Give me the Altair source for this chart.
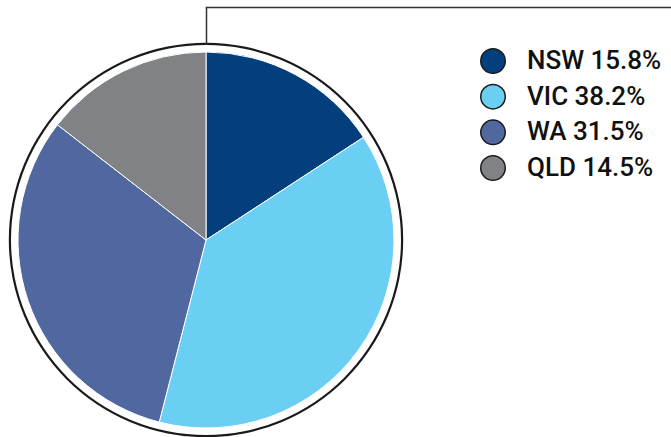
import altair as alt
import pandas as pd
import math

states = ["NSW", "VIC", "WA", "QLD"]
shares = [15.8, 38.2, 31.5, 14.5]
labels = ["NSW 15.8%", "VIC 38.2%", "WA 31.5%", "QLD 14.5%"]
colors = ["#033f7c", "#6bcff4", "#5167a0", "#808285"]

df = pd.DataFrame({"state": states, "share": shares, "label": labels, "order": list(range(len(states)))})

color_scale = alt.Scale(domain=states, range=colors)
CX, CY, R = 206, 240, 188

pie = alt.Chart(df).mark_arc(outerRadius=R, stroke="white", strokeWidth=1).encode(
    theta=alt.Theta("share:Q", stack=True),
    order=alt.Order("order:Q"),
    color=alt.Color("state:N", scale=color_scale, legend=None),
    x=alt.value(CX), y=alt.value(CY),
)

ring = alt.Chart(pd.DataFrame({"a": [0]})).mark_arc(
    innerRadius=195, outerRadius=197.2, theta=0, theta2=2 * math.pi, color="#1a1a1a"
).encode(x=alt.value(CX), y=alt.value(CY))

rule_v = alt.Chart(pd.DataFrame({"a": [0]})).mark_rule(color="#333333", strokeWidth=1.5).encode(
    x=alt.value(206.5), y=alt.value(7.5), y2=alt.value(45)
)
rule_h = alt.Chart(pd.DataFrame({"a": [0]})).mark_rule(color="#333333", strokeWidth=1.5).encode(
    x=alt.value(205.75), x2=alt.value(671), y=alt.value(7.5)
)

yscale = alt.Scale(type="point", domain=states, range=[61, 168], padding=0)

dots = alt.Chart(df).mark_point(filled=True, shape="circle", size=600, stroke="#1a1a1a", strokeWidth=1.5, opacity=1).encode(
    x=alt.value(493),
    y=alt.Y("state:N", scale=yscale, axis=None),
    fill=alt.Color("state:N", scale=color_scale, legend=None),
)

texts = alt.Chart(df).mark_text(align="left", baseline="middle", font="Roboto", fontSize=26, fontWeight=500,
                                color="#111111").encode(
    x=alt.value(527),
    y=alt.Y("state:N", scale=yscale, axis=None),
    text="label:N",
)

chart = alt.layer(ring, pie, rule_v, rule_h, dots, texts).properties(
    width=671, height=437, padding=0, autosize=alt.AutoSizeParams(type="none")
).configure_view(stroke=None)

chart.save("out.html", embed_options={"renderer": "svg", "actions": False})
